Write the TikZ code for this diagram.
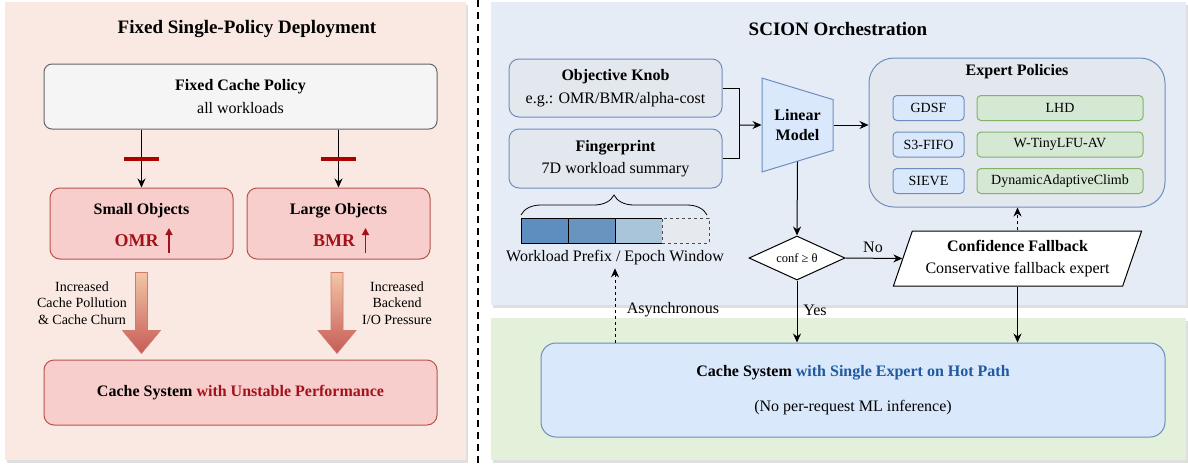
\documentclass[tikz,border=0pt]{standalone}
\usepackage{fontspec}
\setmainfont{Liberation Serif}
\usepackage{xcolor}
\usepackage{tikz}
\usetikzlibrary{arrows.meta}
\usetikzlibrary{calc}
\usetikzlibrary{positioning}
\usetikzlibrary{shapes.geometric}
\usetikzlibrary{shadows}
\usetikzlibrary{decorations.pathreplacing}

\definecolor{leftbg}{HTML}{FAE8E2}
\definecolor{redfill}{HTML}{F8CECC}
\definecolor{redline}{HTML}{B85450}
\definecolor{darkred}{HTML}{A3121B}
\definecolor{barred}{HTML}{AD0000}
\definecolor{grayfill}{HTML}{F5F5F5}
\definecolor{grayline}{HTML}{666666}
\definecolor{orchbg}{HTML}{E5ECF6}
\definecolor{hotbg}{HTML}{E3F0DA}
\definecolor{knobfill}{HTML}{E3E8EF}
\definecolor{blueline}{HTML}{6C8EBF}
\definecolor{bluefill}{HTML}{DAE8FC}
\definecolor{greenfill}{HTML}{D5E8D4}
\definecolor{greenline}{HTML}{82B366}
\definecolor{hotblue}{HTML}{1F5AA0}
\definecolor{cellA}{HTML}{5E8EC0}
\definecolor{cellB}{HTML}{6A94C0}
\definecolor{cellC}{HTML}{A9C5D9}
\definecolor{cellD}{HTML}{E6E9EE}
\definecolor{fatTop}{HTML}{F2C6A6}
\definecolor{fatBot}{HTML}{C65C55}
\definecolor{fatLine}{HTML}{D27A6E}

\tikzset{
  panel/.style={inner sep=0pt, drop shadow={shadow xshift=2pt, shadow yshift=-3pt, opacity=0.25}},
  heading/.style={font=\fontsize{19}{22}\selectfont\bfseries},
  boxtext/.style={align=center, font=\fontsize{16}{22.5}\selectfont},
  boldtext/.style={font=\fontsize{16}{19}\selectfont\bfseries},
  note/.style={align=center, font=\fontsize{14}{16.5}\selectfont},
  plain/.style={font=\fontsize{16}{19}\selectfont},
  graybox/.style={draw=grayline, fill=grayfill, rounded corners=8pt, line width=1pt, boxtext},
  redbox/.style={draw=redline, fill=redfill, rounded corners=10pt, line width=1pt},
  metric/.style={inner sep=2pt, text=darkred, font=\fontsize{18}{20}\selectfont\bfseries},
  rise/.style={draw=darkred, line width=1.5pt, -{Triangle[length=7pt,width=7pt]}},
  blockbar/.style={draw=barred, line width=4pt},
  fatarrow/.style={top color=fatTop, bottom color=fatBot, draw=fatLine, line width=0.6pt},
  knobbox/.style={draw=blueline, fill=knobfill, rounded corners=10pt, line width=1pt, boxtext},
  modelbox/.style={trapezium, trapezium angle=74, shape border rotate=270, trapezium stretches=true,
    minimum width=94, minimum height=71, inner sep=0pt, draw=blueline, fill=bluefill, line width=1pt,
    align=center, font=\fontsize{16}{20}\selectfont\bfseries},
  bluepol/.style={draw=blueline, fill=bluefill, rounded corners=4pt, line width=1pt,
    minimum width=71, minimum height=25, inner sep=0pt, font=\fontsize{14}{16}\selectfont},
  greenpol/.style={bluepol, draw=greenline, fill=greenfill, minimum width=166},
  cell/.style={draw=black, line width=0.8pt, outer sep=0pt, minimum width=47, minimum height=25, inner sep=0pt},
  decision/.style={diamond, aspect=2.2, minimum width=96, minimum height=44, inner sep=0pt,
    draw=black, fill=white, line width=1pt, font=\fontsize{12.5}{14}\selectfont},
  fallbackbox/.style={trapezium, trapezium left angle=66, trapezium right angle=114, trapezium stretches=true,
    minimum width=249, minimum height=55, inner sep=0pt, draw=black, fill=white, line width=1pt, boxtext},
  hotbox/.style={draw=blueline, fill=bluefill, rounded corners=15pt, line width=1pt, boxtext},
  divider/.style={line width=2pt, dash pattern=on 7pt off 5pt},
  brace/.style={decorate, decoration={brace, amplitude=20pt}, line width=0.8pt}
}

\begin{document}
\begin{tikzpicture}[x=1pt, y=-1pt, >={Stealth[length=9pt,width=8pt]}, line width=1pt]
  \useasboundingbox (0,0) rectangle (1188,464);

  % fixed deployment side
  \node[panel, fill=leftbg, minimum width=461, minimum height=458] (lpanel) at (235.5,231) {};
  \node[heading] (ltitle) at (247,29) {Fixed Single-Policy Deployment};
  \node[graybox, minimum width=393, minimum height=65] (fixed) at (240.5,96.5) {\textbf{Fixed Cache Policy}\\all workloads};
  \node[redbox, minimum width=183, minimum height=71] (small) at (141.5,223.5) {};
  \node[boldtext] (smalltxt) at (141.5,211) {Small Objects};
  \node[metric] (omr) at (136.5,241) {OMR};
  \node[redbox, minimum width=183, minimum height=71] (large) at (338.5,223.5) {};
  \node[boldtext] (largetxt) at (338.5,211) {Large Objects};
  \node[metric] (bmr) at (334,241) {BMR};
  \draw[rise] ($(omr.east)+(8,12)$) -- ++(0,-25);
  \draw[rise] ($(bmr.east)+(8,12)$) -- ++(0,-25);

  \draw[->] (small.north |- fixed.south) -- (small.north);
  \draw[->] (large.north |- fixed.south) -- (large.north);
  \draw[blockbar] ($(small.north |- fixed.south)!0.5!(small.north)$) +(-17.5,0) -- +(17.5,0);
  \draw[blockbar] ($(large.north |- fixed.south)!0.5!(large.north)$) +(-17.5,0) -- +(17.5,0);

  \node[redbox, minimum width=393, minimum height=65, boxtext] (unstable) at (240.5,392.5)
    {\textbf{Cache System} \textcolor{darkred}{\textbf{with Unstable Performance}}};
  \shade[fatarrow] ($(small.south)+(-6,13)$) -- ++(12,0) -- ++(0,58) -- ++(13,0) -- ++(-19,23)
    -- ++(-19,-23) -- ++(13,0) -- cycle;
  \shade[fatarrow] ($(large.south)+(-7.5,13)$) -- ++(12,0) -- ++(0,58) -- ++(13,0) -- ++(-19,23)
    -- ++(-19,-23) -- ++(13,0) -- cycle;
  \node[note] (pollute) at (82,303) {Increased\\Cache Pollution\\\& Cache Churn};
  \node[note] (pressure) at (397,303) {Increased\\Backend\\I/O Pressure};

  \draw[divider] (478,0) -- (478,464);

  % SCION side
  \node[panel, fill=orchbg, minimum width=695, minimum height=303] (orch) at (838.5,153.5) {};
  \node[panel, fill=hotbg, minimum width=695, minimum height=142] (hotpanel) at (838.5,389) {};
  \node[heading] (rtitle) at (838,29) {SCION Orchestration};

  \node[knobbox, minimum width=213, minimum height=58] (knob) at (615.5,88) {\textbf{Objective Knob}\\e.g.: OMR/BMR/alpha-cost};
  \node[knobbox, minimum width=213, minimum height=59] (finger) at (615.5,158.5) {\textbf{Fingerprint}\\7D workload summary};
  \node[modelbox] (model) at (797.5,125) {Linear\\Model};
  \coordinate (join) at (739,125);
  \draw (knob.east) -| (join);
  \draw (finger.east) -| (join);
  \draw[->] (join) -- (model.180);

  \node[knobbox, rounded corners=25pt, minimum width=296, minimum height=149] (experts) at (1017,132.5) {};
  \node[boldtext] (exptitle) at (1017,72) {Expert Policies};
  \node[bluepol] (gdsf) at (928.5,108) {GDSF};
  \node[bluepol, below=10.5pt of gdsf] (s3fifo) {S3-FIFO};
  \node[bluepol, below=10.5pt of s3fifo] (sieve) {SIEVE};
  \node[greenpol, right=12pt of gdsf] (lhd) {LHD};
  \node[greenpol, right=12pt of s3fifo] (tinylfu) {W-TinyLFU-AV};
  \node[greenpol, right=12pt of sieve] (dac) {DynamicAdaptiveClimb};
  \draw[->] (model.0) -- (model.0 -| experts.west);

  % workload window
  \node[cell, fill=cellA] (c1) at (544.5,230.5) {};
  \node[cell, fill=cellB, right=0pt of c1] (c2) {};
  \node[cell, fill=cellC, right=0pt of c2] (c3) {};
  \node[cell, fill=cellD, draw=black!70, dashed, right=0pt of c3] (c4) {};
  \draw[brace] ($(c1.north west)+(0,-3)$) -- ($(c4.north east)+(-2,-3)$);
  \node[plain, below=3pt of c2.south east] (prefix) {Workload Prefix / Epoch Window};

  % decision and fallback
  \node[decision] (dec) at (797,258) {conf ≥ θ};
  \node[fallbackbox] (fallback) at (1017.5,258.5) {\textbf{Confidence Fallback}\\Conservative fallback expert};
  \draw[->] (model.-90) -- (dec.north);
  \draw[->] (dec.east) -- (fallback.180);
  \node[plain] (no) at (873,247) {No};
  \draw[->, dashed] (fallback.90) -- (fallback.90 |- experts.south);

  % hot path
  \node[hotbox, minimum width=624, minimum height=94] (hot) at (853,390)
    {\textbf{Cache System} \textcolor{hotblue}{\textbf{with Single Expert on Hot Path}}\\[13pt](No per-request ML inference)};
  \draw[->] (dec.south) -- (dec.south |- hot.north);
  \node[plain] (yes) at (815,310) {Yes};
  \draw[->] (fallback.-90) -- (fallback.-90 |- hot.north);
  \draw[->, dashed] (prefix.south |- hot.north) -- (prefix.south);
  \node[plain] (async) at (673,310) {Asynchronous};
\end{tikzpicture}
\end{document}
